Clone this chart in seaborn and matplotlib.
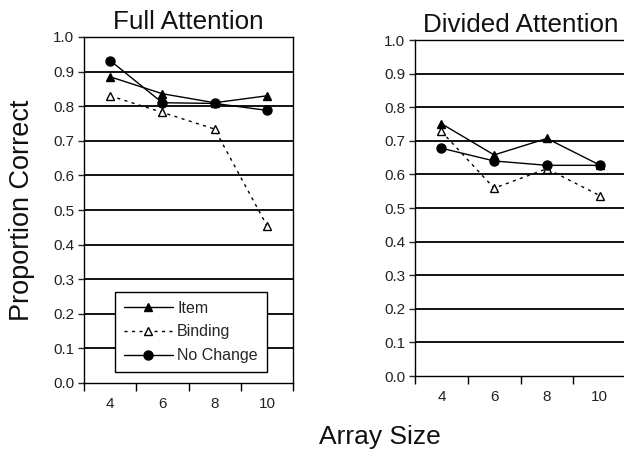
import matplotlib
matplotlib.use("Agg")
import matplotlib.pyplot as plt
import seaborn as sns
import pandas as pd
from matplotlib.ticker import FixedLocator, FixedFormatter

sns.set_theme(style="ticks")
plt.rcParams['font.family'] = ['Liberation Sans', 'DejaVu Sans']

array_sizes = ["4", "6", "8", "10"]
series_names = ["Item", "Binding", "No Change"]

full_item = [0.885, 0.836, 0.810, 0.830]
full_binding = [0.830, 0.782, 0.734, 0.455]
full_nochange = [0.932, 0.810, 0.808, 0.788]

div_item = [0.751, 0.658, 0.707, 0.628]
div_binding = [0.728, 0.559, 0.617, 0.537]
div_nochange = [0.678, 0.640, 0.627, 0.627]

y_ticks = [0.0, 0.1, 0.2, 0.3, 0.4, 0.5, 0.6, 0.7, 0.8, 0.9, 1.0]

styles = {
    "Item": dict(marker="^", mfc="black", mec="black", ls="-", ms=6.3),
    "Binding": dict(marker="^", mfc="white", mec="black", ls=(0, (2.2, 3.2)), ms=6.3),
    "No Change": dict(marker="o", mfc="black", mec="black", ls="-", ms=6.5),
}

fig = plt.figure(figsize=(6.24, 4.57), dpi=100)
ax1 = fig.add_axes([84/624, 1-383/457, 209/624, 346/457])
ax2 = fig.add_axes([415/624, 1-376/457, 211/624, 336/457])


def draw(ax, vals, title, legend=False):
    df = pd.DataFrame({
        "size": array_sizes * 3,
        "pos": list(range(4)) * 3,
        "value": vals[0] + vals[1] + vals[2],
        "series": sum([[s] * 4 for s in series_names], []),
    })
    for name in series_names:
        st = styles[name]
        sub = df[df["series"] == name]
        sns.lineplot(data=sub, x="pos", y="value", ax=ax, color="black",
                     linewidth=1.0, linestyle=st["ls"], marker=st["marker"],
                     markersize=st["ms"], markerfacecolor=st["mfc"],
                     markeredgecolor=st["mec"], markeredgewidth=1.0,
                     label=name, zorder=3)
    ax.set_xlim(-0.5, 3.5)
    ax.set_ylim(0, 1.0)
    ax.set_yticks(y_ticks)
    ax.set_yticklabels([f"{v:.1f}" for v in y_ticks])
    for v in y_ticks[1:]:
        ax.axhline(v, color="black", lw=1.3, zorder=1)
    ax.xaxis.set_major_locator(FixedLocator([-0.5, 0.5, 1.5, 2.5, 3.5]))
    ax.xaxis.set_major_formatter(FixedFormatter([""] * 5))
    ax.xaxis.set_minor_locator(FixedLocator([0, 1, 2, 3]))
    ax.xaxis.set_minor_formatter(FixedFormatter(array_sizes))
    ax.tick_params(axis="x", which="major", length=6, width=1, direction="out", color="black")
    ax.tick_params(axis="x", which="minor", length=0, labelsize=11, pad=10, labelcolor="#222222")
    ax.tick_params(axis="y", length=4, width=1, direction="out", labelsize=11, pad=3, labelcolor="#222222")
    ax.set_xlabel("")
    ax.set_ylabel("")
    for sp in ax.spines.values():
        sp.set_color("black")
        sp.set_linewidth(1.0)
    ax.set_title(title, fontsize=18.7, pad=6, color="#111111")
    if legend:
        leg = ax.legend(loc="lower left", bbox_to_anchor=(0.148, 0.032),
                        borderaxespad=0, frameon=True, fancybox=False,
                        edgecolor="black", framealpha=1, fontsize=11.5,
                        handlelength=3.1, numpoints=1, labelspacing=0.55,
                        handletextpad=0.25, borderpad=0.55)
        leg.get_frame().set_linewidth(1.0)
    else:
        l = ax.get_legend()
        if l is not None:
            l.remove()


draw(ax1, [full_item, full_binding, full_nochange], "Full Attention", legend=True)
draw(ax2, [div_item, div_binding, div_nochange], "Divided Attention")

fig.text(22/624, 1-210/457, "Proportion Correct", rotation=90, fontsize=19.5,
         ha="center", va="center", color="#111111")
fig.text(380/624, 1-437/457, "Array Size", fontsize=19, ha="center", va="center",
         color="#111111")

fig.savefig("out.png", dpi=100)
